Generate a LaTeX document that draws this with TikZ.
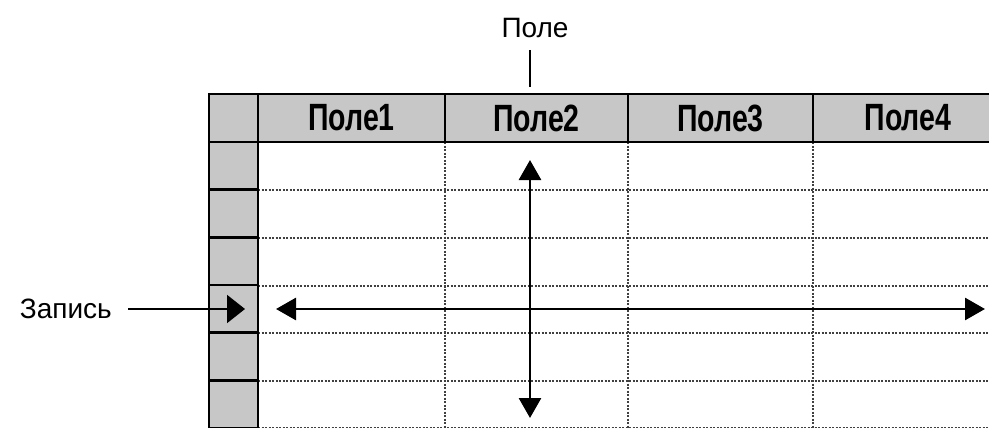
\documentclass[tikz,border=0pt]{standalone}
\usepackage{fontspec}
\setmainfont{Liberation Sans}
\newfontfamily\hdrfont[FakeStretch=0.75]{Liberation Sans}
\usetikzlibrary{arrows.meta,positioning}
\tikzset{
  >={Triangle[length=20pt,width=22pt]},
  hdr/.style ={draw=black,line width=2.5pt,fill=black!22,minimum height=48pt,
               inner sep=0pt,font=\hdrfont\bfseries\fontsize{38}{39}\selectfont},
  sel/.style ={fill=black!22,minimum width=49pt,
               minimum height=47.7pt,inner sep=0pt},
  gridln/.style={line width=1.1pt,draw=black!75,dash pattern=on 2pt off 1.5pt},
  arr/.style ={<->,line width=2.8pt},
  lbl/.style ={font=\fontsize{28}{30}\selectfont,inner sep=0pt},
}
\begin{document}
\begin{tikzpicture}[x=1pt,y=-1pt]
\useasboundingbox (0,0) rectangle (989,428);
\clip (0,0) rectangle (989,428);
%======================= grid lines ==============================
\foreach \yy in {190,238,286,333,381,428}
  \draw[gridln] (258,\yy) -- (995,\yy);
\foreach \xx in {445,628,813}
  \draw[gridln] (\xx,142) -- (\xx,430);
%======================= header row ==============================
\node[hdr,minimum width=49pt]  (corner) at (233.5,118) {};
\node[hdr,minimum width=187pt] (f1) at (351.5,118) {Поле1};
\node[hdr,minimum width=183pt] (f2) at (536.5,118) {Поле2};
\node[hdr,minimum width=185pt] (f3) at (720.5,118) {Поле3};
\node[hdr,minimum width=190pt] (f4) at (908,118) {Поле4};
%======================= record selector =========================
\foreach \i in {1,...,6}
  \node[sel] (r\i) at (233.5,{142+47.67*(\i-0.5)}) {};
\foreach \i in {1,...,6}
  \draw[line width=2.5pt] (r\i.north west) rectangle (r\i.south east);
%======================= labels ==================================
\node[lbl] (pole) at (535,28) {Поле};
\coordinate (ptick) at (530,87);
\draw[line width=2.5pt,shorten <=12pt] (ptick |- pole.south) -- (ptick);
\node[lbl,anchor=east] (zap) at (112,309) {Запись};
\coordinate (cur) at (245,309);
\draw[-{Triangle[length=18pt,width=28pt]},line width=2pt,shorten <=16pt] (zap.east) -- (cur);
%======================= arrows ==================================
\coordinate (vtop) at (530,160);
\coordinate (vbot) at (530,418);
\draw[arr] (vtop) -- (vbot);
\coordinate (hleft) at (276,309);
\coordinate (hright) at (985,309);
\draw[arr] (hleft) -- (hright);
\end{tikzpicture}
\end{document}
